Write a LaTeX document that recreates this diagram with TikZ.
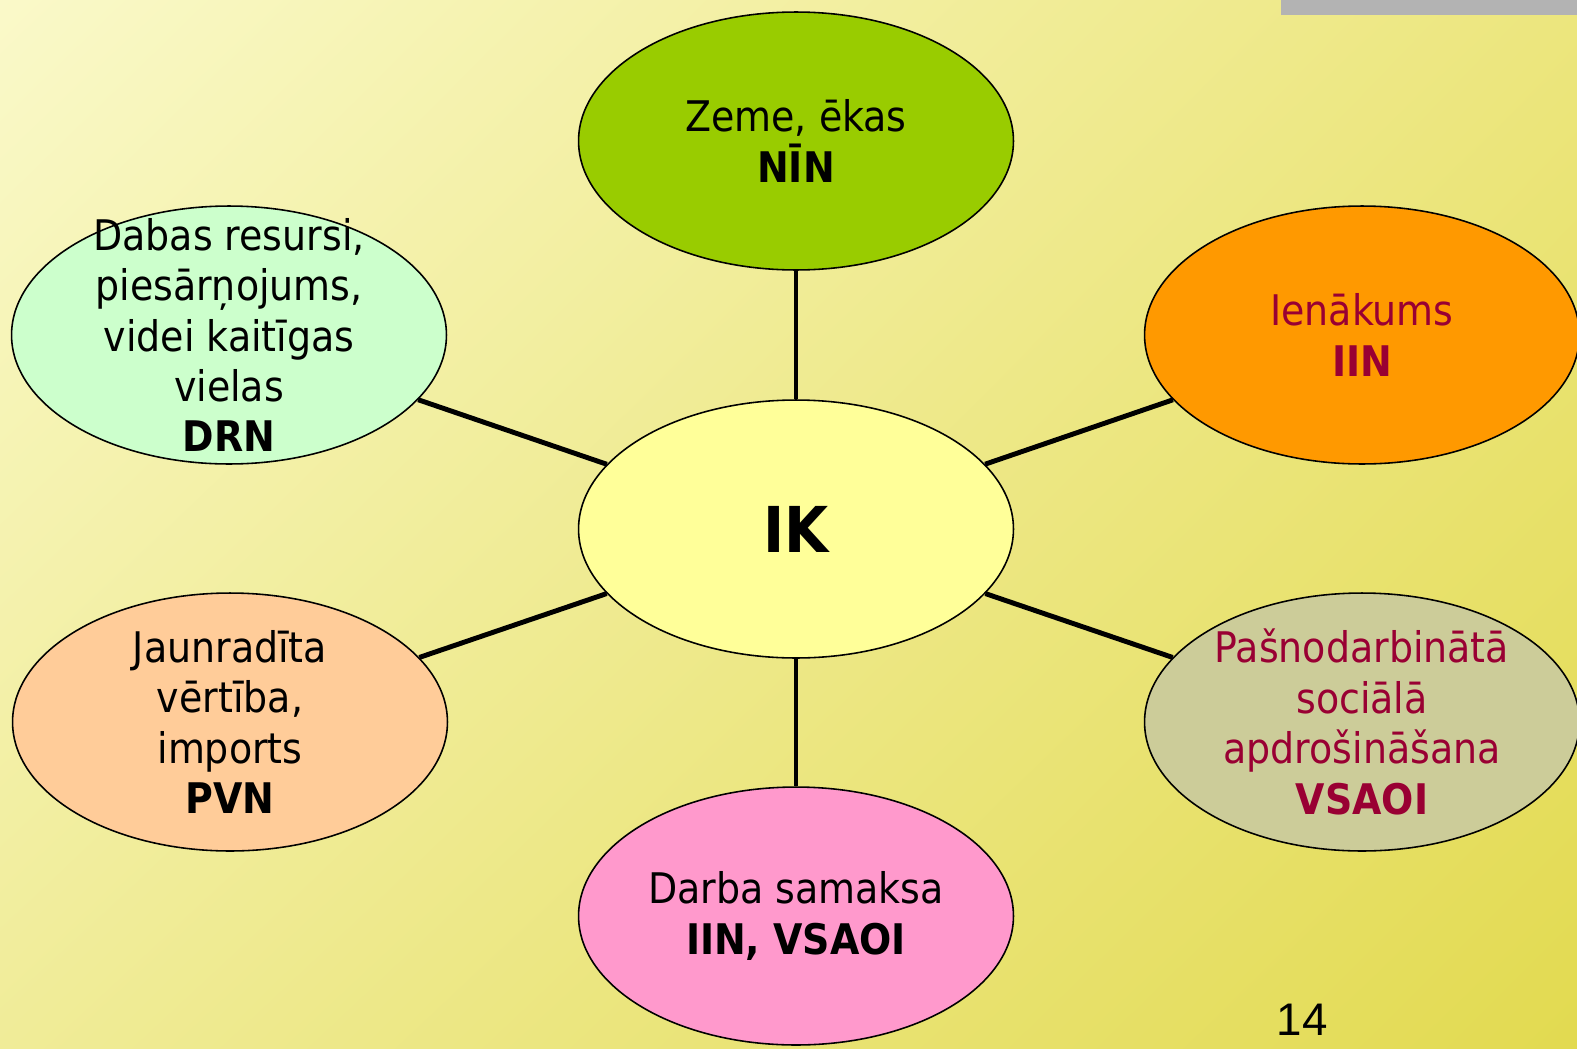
\documentclass[tikz,border=0pt]{standalone}
\usepackage{fontspec}
\setmainfont{DejaVu Sans Condensed}
\newfontfamily\numfont{Liberation Sans}
\usepackage{xcolor}
\usetikzlibrary{shapes.geometric,shadings}

\definecolor{bgUL}{HTML}{FAF9C9}
\definecolor{bgUR}{HTML}{ECE67E}
\definecolor{bgLL}{HTML}{F0EC98}
\definecolor{bgLR}{HTML}{E2DA50}
\definecolor{barGray}{HTML}{B3B3B3}
\definecolor{txtRed}{HTML}{990033}
\definecolor{fillIK}{HTML}{FFFF99}
\definecolor{fillNIN}{HTML}{99CC00}
\definecolor{fillDRN}{HTML}{CCFFCC}
\definecolor{fillIIN}{HTML}{FF9900}
\definecolor{fillPVN}{HTML}{FFCC99}
\definecolor{fillVSA}{HTML}{CCCC99}
\definecolor{fillDS}{HTML}{FF99CC}

\tikzset{
  bubble/.style={ellipse, draw=black, line width=0.9pt, minimum width=8.7cm, minimum height=5.16cm, inner sep=0pt},
  txt/.style={align=center, inner sep=0pt, font=\fontsize{24}{28.7}\selectfont},
  spoke/.style={line width=2.8pt, draw=black}
}

\begin{document}
\begin{tikzpicture}[x=0.02cm, y=-0.02cm]
  \def\W{1577};
  \def\H{1048};
  \useasboundingbox (0,0) rectangle (\W,\H);
  \shade[upper left=bgUL, upper right=bgUR, lower left=bgLL, lower right=bgLR] (0,0) rectangle (\W,\H); %slide background%
  \fill[barGray] (1281,0) rectangle (\W,15);

  \coordinate (cIK) at (796,529);
  \node[bubble, fill=fillIK, label={[txt, font=\fontsize{36}{40}\selectfont\bfseries]center:IK}] (ik) at (cIK) {};
  \node[bubble, fill=fillNIN, label={[txt]center:{Zeme, ēkas\\\textbf{NĪN}}}] (nin) at (796,141) {};
  \node[bubble, fill=fillDRN, label={[txt]center:{Dabas resursi,\\piesārņojums,\\videi kaitīgas\\vielas\\\textbf{DRN}}}] (drn) at (229,335) {};
  \node[bubble, fill=fillIIN, label={[txt, text=txtRed]center:{Ienākums\\\textbf{IIN}}}] (iin) at (1362,335) {};
  \node[bubble, fill=fillPVN, label={[txt]center:{Jaunradīta\\vērtība,\\imports\\\textbf{PVN}}}] (pvn) at (230,722) {};
  \node[bubble, fill=fillVSA, label={[txt, text=txtRed]center:{Pašnodarbinātā\\sociālā\\apdrošināšana\\\textbf{VSAOI}}}] (vsa) at (1362,722) {};
  \node[bubble, fill=fillDS, label={[txt]center:{Darba samaksa\\\textbf{IIN, VSAOI}}}] (ds) at (796,916) {};

  %spokes from the centre%
  \foreach \n in {nin,drn,iin,pvn,vsa,ds}
    \draw[spoke] (ik) -- (\n);

  \node[inner sep=0pt, font=\numfont\fontsize{26}{30}\selectfont] (page) at (1302,1020) {14};
\end{tikzpicture}
\end{document}
